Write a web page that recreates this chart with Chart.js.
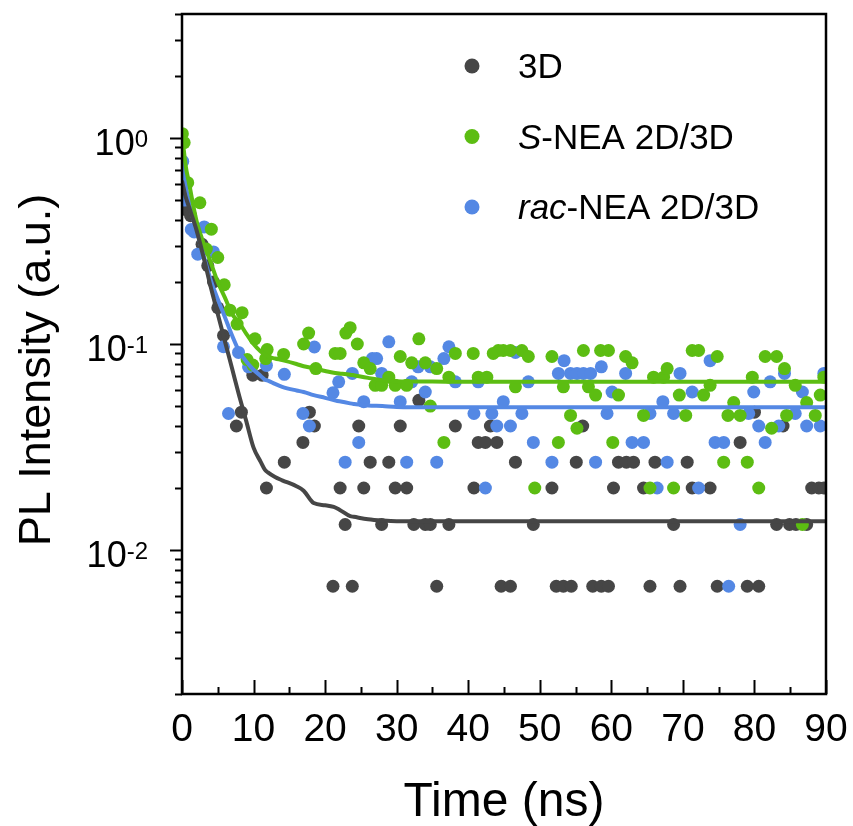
<!DOCTYPE html>
<html>
<head>
<meta charset="utf-8">
<script src="https://cdn.jsdelivr.net/npm/chart.js@4.4.1/dist/chart.umd.min.js"></script>
<style>
  html, body { margin: 0; padding: 0; background: #fff; }
  #box { width: 853px; height: 826px; }
</style>
</head>
<body>
<div id="box"><canvas id="chartPL"></canvas></div>
<script>
// dados (tempo em ns, intensidade PL normalizada)
var t3D = [0.2, 0.5, 1.2, 2.0, 2.8, 3.6, 4.4, 5.0, 5.8, 7.6, 8.3, 9.9, 11.2, 11.8, 14.3, 16.9, 17.8, 18.5,
    21.1, 22.1, 22.8, 23.8, 24.7, 25.4, 26.3, 27.9, 28.9, 29.8, 30.5, 31.4, 32.4, 33.1, 34.0, 34.7, 35.6, 37.3,
    38.2, 40.8, 41.4, 42.4, 43.1, 44.0, 44.6, 45.9, 46.6, 49.1, 51.7, 52.3, 53.3, 54.4, 55.1, 56.0, 57.4, 58.6,
    59.6, 60.3, 61.0, 62.1, 63.1, 64.5, 65.4, 66.1, 68.7, 69.6, 70.6, 71.3, 73.8, 74.8, 78.0, 79.0, 80.0, 80.6,
    83.1, 84.0, 84.9, 85.8, 87.3, 88.0, 89.0, 89.7];
var v3D = [0.60, 0.45, 0.42, 0.36, 0.305, 0.24, 0.20, 0.15, 0.11, 0.040, 0.0467, 0.0706, 0.0706, 0.020, 0.0267, 0.0333, 0.0467, 0.040,
    0.00667, 0.020, 0.0133, 0.00667, 0.040, 0.020, 0.0267, 0.0133, 0.0267, 0.020, 0.040, 0.020, 0.0133, 0.0533, 0.0133, 0.0133, 0.00667, 0.0133,
    0.040, 0.020, 0.0333, 0.0333, 0.040, 0.0333, 0.00667, 0.00667, 0.0267, 0.0133, 0.020, 0.00667, 0.00667, 0.00667, 0.0267, 0.040, 0.00667, 0.00667,
    0.00667, 0.020, 0.0267, 0.0267, 0.0267, 0.020, 0.00667, 0.0267, 0.0133, 0.00667, 0.0267, 0.020, 0.020, 0.00667, 0.0333, 0.00667, 0.0467, 0.00667,
    0.0133, 0.040, 0.0133, 0.0133, 0.0133, 0.020, 0.020, 0.020];

var tS = [0.05, 0.3, 0.8, 2.5, 3.4, 4.1, 5.0, 5.9, 6.7, 7.7, 8.4, 9.1, 9.9, 10.2, 11.7, 11.9, 14.2, 17.0, 17.7, 18.7,
    21.4, 22.1, 22.9, 23.5, 24.5, 25.4, 26.3, 27.0, 27.9, 28.9, 29.8, 30.5, 31.4, 32.1, 33.1, 34.0, 34.7, 35.6,
    36.6, 37.3, 38.2, 40.7, 41.4, 42.6, 43.5, 44.2, 44.9, 45.9, 46.6, 47.5, 48.4, 49.3, 51.7, 52.6, 53.3, 54.3,
    55.2, 56.1, 56.8, 57.8, 58.5, 59.6, 60.2, 61.0, 62.0, 62.9, 64.5, 65.4, 65.9, 67.3, 67.8, 68.7, 69.5, 70.4,
    71.3, 72.2, 72.9, 73.8, 74.8, 75.7, 76.3, 77.1, 78.0, 79.0, 79.7, 80.6, 81.5, 82.4, 83.1, 84.2, 84.5, 85.7,
    86.7, 87.3, 88.5, 89.2, 89.7];
var vS = [1.05, 0.95, 0.607, 0.485, 0.289, 0.361, 0.263, 0.194, 0.146, 0.125, 0.142, 0.084, 0.079, 0.106, 0.085, 0.094, 0.089, 0.100, 0.113, 0.076,
    0.090, 0.090, 0.113, 0.120, 0.100, 0.081, 0.076, 0.063, 0.063, 0.069, 0.063, 0.087, 0.063, 0.081, 0.106, 0.081, 0.050, 0.076,
    0.0333, 0.069, 0.090, 0.090, 0.069, 0.069, 0.090, 0.093, 0.093, 0.093, 0.062, 0.093, 0.087, 0.020, 0.087, 0.0333, 0.062, 0.045,
    0.039, 0.093, 0.062, 0.0565, 0.093, 0.093, 0.0333, 0.0565, 0.087, 0.081, 0.045, 0.020, 0.069, 0.069, 0.076, 0.020, 0.0565, 0.045,
    0.093, 0.093, 0.0565, 0.063, 0.087, 0.0267, 0.045, 0.052, 0.045, 0.0267, 0.069, 0.020, 0.087, 0.039, 0.087, 0.076, 0.045, 0.063,
    0.0133, 0.052, 0.045, 0.0565, 0.069];

var tRac = [0.1, 0.4, 1.3, 1.7, 2.2, 3.1, 4.4, 5.8, 6.5, 7.9, 9.3, 11.8, 14.3, 16.9, 17.8, 18.5,
    21.1, 21.9, 22.8, 23.8, 24.7, 25.4, 26.6, 27.2, 27.9, 28.9, 30.5, 31.4, 32.1, 33.0, 34.0, 34.7, 35.6, 36.6,
    37.3, 38.2, 40.8, 41.4, 42.4, 43.3, 44.0, 44.9, 45.9, 46.6, 47.5, 48.4, 49.1, 51.7, 52.6, 53.4, 54.3, 55.2,
    56.1, 57.1, 57.8, 58.6, 59.4, 60.1, 62.0, 62.9, 64.5, 65.4, 66.4, 67.2, 67.8, 68.7, 69.6, 71.3, 72.2, 73.8,
    74.5, 75.7, 76.4, 78.0, 79.2, 79.9, 80.6, 81.5, 82.2, 83.4, 84.2, 85.7, 86.7, 87.3, 89.2, 89.7];
var vRac = [0.77, 0.50, 0.36, 0.35, 0.273, 0.37, 0.28, 0.097, 0.046, 0.091, 0.0775, 0.0787, 0.0713, 0.046, 0.040, 0.0967,
    0.0580, 0.0655, 0.0267, 0.072, 0.0333, 0.0525, 0.085, 0.085, 0.072, 0.1025, 0.0525, 0.0267, 0.0655, 0.0775, 0.0585, 0.0775, 0.0267, 0.085,
    0.097, 0.0655, 0.046, 0.0655, 0.020, 0.046, 0.040, 0.0525, 0.040, 0.091, 0.046, 0.0655, 0.0333, 0.0267, 0.072, 0.083, 0.072, 0.072,
    0.072, 0.072, 0.0267, 0.0775, 0.046, 0.0585, 0.072, 0.0333, 0.0333, 0.046, 0.020, 0.0525, 0.0267, 0.046, 0.072, 0.0585, 0.020, 0.083,
    0.0333, 0.0333, 0.00667, 0.0133, 0.046, 0.0585, 0.040, 0.0333, 0.0655, 0.040, 0.072, 0.046, 0.0585, 0.040, 0.040, 0.072];

// curvas de ajuste
var tAjuste = [0, 0.5, 1, 2, 3, 4, 5, 6, 7, 8, 9, 10, 11, 11.6, 12, 13, 14, 16, 17, 18.4, 20, 21.2, 22, 23.5, 24, 26, 28, 30, 35, 40, 50, 60, 70, 80, 90];
var ajuste3D = [0.62, 0.52, 0.46, 0.36, 0.265, 0.19, 0.14, 0.103, 0.076, 0.056, 0.042, 0.0314, 0.0268, 0.0245, 0.0238, 0.0226, 0.0218, 0.0204, 0.0194, 0.0169, 0.0165, 0.0162, 0.0157, 0.0146, 0.0145, 0.0141, 0.0139, 0.0138, 0.0138, 0.0138, 0.0138, 0.0138, 0.0138, 0.0138, 0.0138];
var ajusteS = [1.05, 0.74, 0.60, 0.40, 0.31, 0.25, 0.20, 0.168, 0.14, 0.127, 0.112, 0.100, 0.092, 0.089, 0.087, 0.085, 0.0835, 0.080, 0.078, 0.0762, 0.074, 0.0725, 0.072, 0.071, 0.0705, 0.0685, 0.0668, 0.066, 0.0657, 0.0655, 0.0655, 0.0655, 0.0655, 0.0655, 0.0655];
var ajusteRac = [0.80, 0.60, 0.48, 0.36, 0.27, 0.205, 0.165, 0.135, 0.110, 0.092, 0.082, 0.075, 0.070, 0.067, 0.0665, 0.064, 0.062, 0.0595, 0.0585, 0.0565, 0.0548, 0.0535, 0.0527, 0.0515, 0.0512, 0.0503, 0.050, 0.0495, 0.0493, 0.0493, 0.0493, 0.0493, 0.0493, 0.0493, 0.0493];

var xTicks = [0, 10, 20, 30, 40, 50, 60, 70, 80, 90];
var yExpoentes = [-2, -1, 0];
var legendaTextos = [['', '3D'], ['S', '-NEA 2D/3D'], ['rac', '-NEA 2D/3D']];

var corCinza = '#464646';
var corVerde = '#5cbd12';
var corAzul = '#5488e4';
var fonte = '"Liberation Sans", Arial, sans-serif';

function pontos(ts, vs) {
    var lista = [];
    for (var i = 0; i < ts.length; i++) {
        lista.push({ x: ts[i], y: vs[i] });
    }
    return lista;
}

// moldura, ticks e textos desenhados com as escalas do Chart.js
const moldura = {
    id: 'moldura',
    afterDraw(chart) {
        const ctx = chart.ctx;
        const a = chart.chartArea;
        const x = chart.scales.x;
        const y = chart.scales.y;
        ctx.save();
        ctx.strokeStyle = '#000';
        ctx.lineWidth = 2;

        // ticks do eixo x (para dentro)
        for (var t = xTicks[0]; t <= xTicks[xTicks.length - 1]; t += 5) {
            var px = Math.round(x.getPixelForValue(t)) + 0.5;
            var len = (t % 10 === 0) ? 14 : 7;
            ctx.beginPath();
            ctx.moveTo(px, a.bottom);
            ctx.lineTo(px, a.bottom - len);
            ctx.stroke();
        }

        // ticks do eixo y (para fora)
        for (var e = -3; e <= 0; e++) {
            for (var m = 1; m <= 9; m++) {
                var v = m * Math.pow(10, e);
                if (v < y.min || v > y.max) continue;
                var py = Math.round(y.getPixelForValue(v)) + 0.5;
                var lenY = (m === 1) ? 12 : 7;
                ctx.beginPath();
                ctx.moveTo(a.left, py);
                ctx.lineTo(a.left - lenY, py);
                ctx.stroke();
            }
        }

        ctx.lineWidth = 2.5;
        ctx.strokeRect(a.left, a.top, a.right - a.left, a.bottom - a.top);

        // rotulos 10^n
        ctx.fillStyle = '#000';
        ctx.textBaseline = 'alphabetic';
        ctx.textAlign = 'left';
        yExpoentes.forEach(function (ex) {
            var py = y.getPixelForValue(Math.pow(10, ex));
            var sup = String(ex);
            ctx.font = '24px ' + fonte;
            var wSup = ctx.measureText(sup).width;
            ctx.font = '36px ' + fonte;
            var wBase = ctx.measureText('10').width;
            var direita = 148;
            ctx.fillText('10', direita - wSup - wBase, py + 17);
            ctx.font = '24px ' + fonte;
            ctx.fillText(sup, direita - wSup, py + 9);
        });

        // titulo eixo x
        ctx.font = '48px ' + fonte;
        ctx.textAlign = 'center';
        ctx.fillText('Time (ns)', (a.left + a.right) / 2, 816);

        // titulo eixo y
        ctx.save();
        ctx.translate(50, 370);
        ctx.rotate(-Math.PI / 2);
        ctx.font = '45px ' + fonte;
        ctx.fillText('PL Intensity (a.u.)', 0, 0);
        ctx.restore();

        // legenda
        var cores = [corCinza, corVerde, corAzul];
        var linhas = [66, 136.5, 207];
        ctx.textAlign = 'left';
        legendaTextos.forEach(function (partes, i) {
            ctx.fillStyle = cores[i];
            ctx.beginPath();
            ctx.arc(472, linhas[i], 7.5, 0, Math.PI * 2);
            ctx.fill();
            ctx.fillStyle = '#000';
            var xt = 518;
            if (partes[0]) {
                ctx.font = 'italic 35px ' + fonte;
                ctx.fillText(partes[0], xt, linhas[i] + 12);
                xt += ctx.measureText(partes[0]).width;
            }
            ctx.font = '35px ' + fonte;
            ctx.fillText(partes[1], xt, linhas[i] + 12);
        });

        ctx.restore();
    }
};

function plotarGrafico() {
    const dados = {
        datasets: [
            {
                label: 'ajuste 3D', data: pontos(tAjuste, ajuste3D), showLine: true,
                borderColor: corCinza, borderWidth: 4, pointRadius: 0, cubicInterpolationMode: 'monotone', tension: 0.3, order: 0
            },
            {
                label: 'ajuste S-NEA', data: pontos(tAjuste, ajusteS), showLine: true,
                borderColor: corVerde, borderWidth: 4, pointRadius: 0, cubicInterpolationMode: 'monotone', tension: 0.3, order: 0
            },
            {
                label: 'ajuste rac-NEA', data: pontos(tAjuste, ajusteRac), showLine: true,
                borderColor: corAzul, borderWidth: 4, pointRadius: 0, cubicInterpolationMode: 'monotone', tension: 0.3, order: 0
            },
            {
                label: 'S-NEA 2D/3D', data: pontos(tS, vS), showLine: false,
                backgroundColor: corVerde, borderWidth: 0, pointRadius: 6.5, order: 1
            },
            {
                label: 'rac-NEA 2D/3D', data: pontos(tRac, vRac), showLine: false,
                backgroundColor: corAzul, borderWidth: 0, pointRadius: 6.5, order: 2
            },
            {
                label: '3D', data: pontos(t3D, v3D), showLine: false,
                backgroundColor: corCinza, borderWidth: 0, pointRadius: 6.5, order: 3
            }
        ]
    };

    const config = {
        type: 'scatter',
        data: dados,
        options: {
            responsive: true,
            maintainAspectRatio: false,
            animation: false,
            layout: { padding: { top: 14, right: 27, left: 0, bottom: 0 } },
            scales: {
                x: {
                    type: 'linear',
                    min: 0,
                    max: 90,
                    afterFit: function (scale) {
                        scale.height = 132;
                        scale.paddingLeft = 0;
                        scale.paddingRight = 0;
                    },
                    afterBuildTicks: function (scale) {
                        scale.ticks = xTicks.map(function (v) { return { value: v }; });
                    },
                    grid: { display: false },
                    border: { display: false },
                    ticks: {
                        autoSkip: false,
                        maxRotation: 0,
                        padding: 5,
                        color: '#000',
                        font: { family: fonte, size: 39 }
                    }
                },
                y: {
                    type: 'logarithmic',
                    min: 0.002,
                    max: 4,
                    afterFit: function (scale) { scale.width = 182; },
                    grid: { display: false },
                    border: { display: false },
                    ticks: { display: false }
                }
            },
            plugins: {
                legend: { display: false },
                tooltip: { enabled: false }
            }
        },
        plugins: [moldura]
    };

    new Chart(document.getElementById('chartPL'), config);
}

plotarGrafico();
</script>
</body>
</html>
